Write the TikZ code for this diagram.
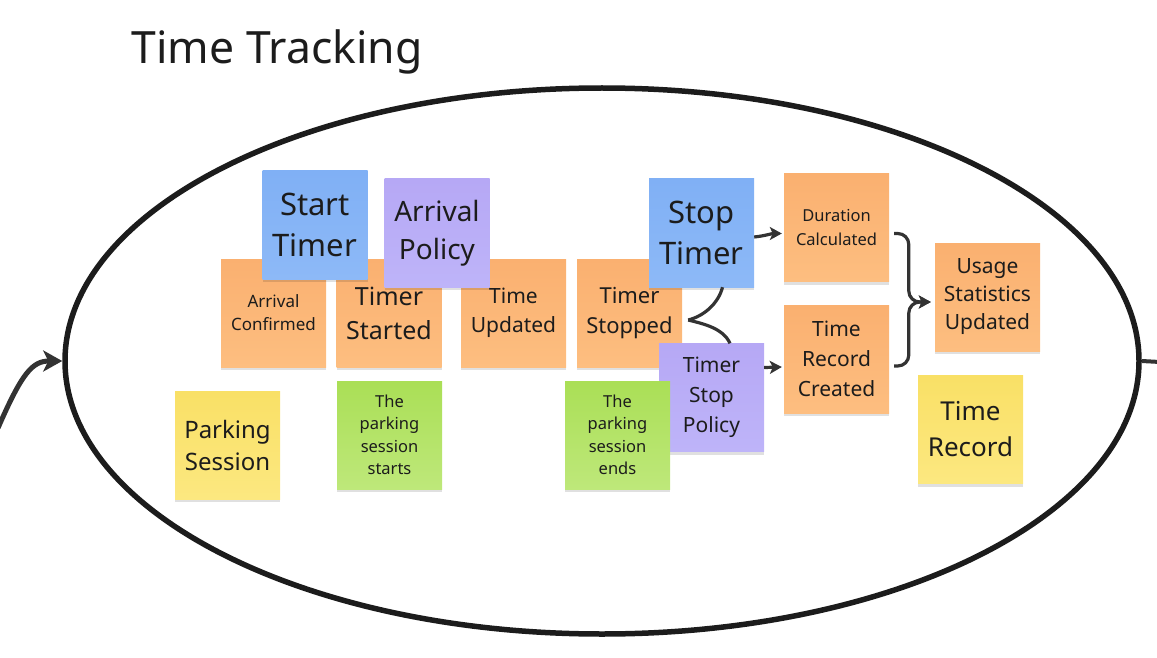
\documentclass[tikz,border=0pt]{standalone}
\usepackage{fontspec}
\setmainfont{Noto Sans}
\usetikzlibrary{shapes.geometric, arrows.meta, shadows}
\definecolor{inkdark}{RGB}{28, 28, 28}
\definecolor{flowgray}{RGB}{51, 51, 51}
\definecolor{orangetop}{RGB}{250, 176, 112}
\definecolor{orangebot}{RGB}{253, 190, 128}
\definecolor{bluetop}{RGB}{128, 176, 245}
\definecolor{bluebot}{RGB}{141, 185, 247}
\definecolor{purpletop}{RGB}{182, 168, 245}
\definecolor{purplebot}{RGB}{190, 180, 249}
\definecolor{greentop}{RGB}{170, 223, 86}
\definecolor{greenbot}{RGB}{190, 232, 122}
\definecolor{yellowtop}{RGB}{249, 224, 102}
\definecolor{yellowbot}{RGB}{252, 232, 128}
\newcommand{\stickyfont}[2]{\fontsize{#1pt}{#2pt}\selectfont}
\tikzset{
	sticky/.style={minimum width=105pt, minimum height=108pt, inner sep=0pt, align=center, text=inkdark,
		drop shadow={shadow xshift=0pt, shadow yshift=-3pt, opacity=0.12, fill=black}},
	eventnote/.style={sticky, top color=orangetop, bottom color=orangebot},
	commandnote/.style={sticky, top color=bluetop, bottom color=bluebot},
	policynote/.style={sticky, top color=purpletop, bottom color=purplebot},
	notenote/.style={sticky, top color=greentop, bottom color=greenbot},
	aggregatenote/.style={sticky, top color=yellowtop, bottom color=yellowbot},
	flow/.style={draw=flowgray, line width=3.2pt, -{Stealth[length=12pt, width=13pt, inset=3pt]}},
	branch/.style={draw=flowgray, line width=3.2pt},
	bigflow/.style={draw=flowgray, line width=5pt, -{Stealth[length=19pt, width=21pt, inset=5pt]}}
}

\begin{document}
\begin{tikzpicture}[x=1pt, y=-1pt]
	\useasboundingbox (0,0) rectangle (1157,658);

	\node[anchor=base west, font=\stickyfont{44.5}{50}, text=inkdark] (title) at (128,64) {Time Tracking};

	\node[draw=inkdark, line width=5.5pt, ellipse, inner sep=0pt, minimum width=1074pt, minimum height=546pt] (ctx) at (602,361) {};
	\coordinate (inflow) at (-2,428);
	\coordinate (outflow) at (1160,362);
	\draw[bigflow] (inflow) .. controls +(24,-55) and +(-30,0) .. (ctx.west);
	\draw[draw=flowgray, line width=4pt] (ctx.east) -- (outflow);

	\node[eventnote, font=\stickyfont{17}{23}] (arrconf) at (273.5,313) {Arrival\\Confirmed};
	\node[eventnote, font=\stickyfont{25}{34}] (tstarted) at (389,313) {Timer\\Started};
	\node[eventnote, font=\stickyfont{21}{29}] (tupdated) at (513.5,313) {Time\\Updated};
	\node[eventnote, font=\stickyfont{22}{30}] (tstopped) at (629.5,313) {Timer\\Stopped};
	\node[eventnote, font=\stickyfont{16.5}{24}] (durcalc) at (836.5,227.5) {Duration\\Calculated};
	\node[eventnote, font=\stickyfont{21}{30}] (trcreated) at (836.5,359) {Time\\Record\\Created};
	\node[eventnote, font=\stickyfont{21}{28}] (usage) at (987.5,297) {Usage\\Statistics\\Updated};

	\node[commandnote, font=\stickyfont{31}{41}] (starttimer) at (315,225) {Start\\Timer};
	\node[policynote, font=\stickyfont{28}{38}] (arrpolicy) at (437,233) {Arrival\\Policy};
	\node[commandnote, font=\stickyfont{31}{41}] (stoptimer) at (701.5,233) {Stop\\Timer};
	\node[policynote, font=\stickyfont{21}{30}] (tsp) at (711.5,397.5) {Timer\\Stop\\Policy};

	\draw[branch] ([shift={(6,7)}]tstopped.east) .. controls +(16,-4) and +(-4,16) .. ([xshift=21pt]stoptimer.south);
	\draw[branch] ([shift={(6,7)}]tstopped.east) .. controls +(16,4) and +(-7,-15) .. ([xshift=18.5pt]tsp.north);

	\node[notenote, font=\stickyfont{16.5}{22.5}] (sstarts) at (389.5,435) {The\\parking\\session\\starts};
	\node[notenote, font=\stickyfont{16.5}{22.5}] (sends) at (617.5,435) {The\\parking\\session\\ends};
	\node[aggregatenote, font=\stickyfont{24}{32}] (parksess) at (227.5,445) {Parking\\Session};
	\node[aggregatenote, font=\stickyfont{26}{36}] (timerec) at (970.5,429.5) {Time\\Record};

	\draw[flow] ([shift={(0,4)}]stoptimer.east) .. controls +(10,-1) and +(-10,0) .. ([shift={(-2,6)}]durcalc.west);
	\draw[flow] ([shift={(0,-30)}]tsp.east) -- ([shift={(-2,8)}]trcreated.west);
	\draw[flow, rounded corners=11pt] ([shift={(5,6)}]durcalc.east) -| ([shift={(-26,5)}]usage.west) -- ([shift={(-4,5)}]usage.west);
	\draw[flow, rounded corners=11pt] ([shift={(5,7)}]trcreated.east) -| ([shift={(-26,5)}]usage.west) -- ([shift={(-4,5)}]usage.west);
\end{tikzpicture}
\end{document}
